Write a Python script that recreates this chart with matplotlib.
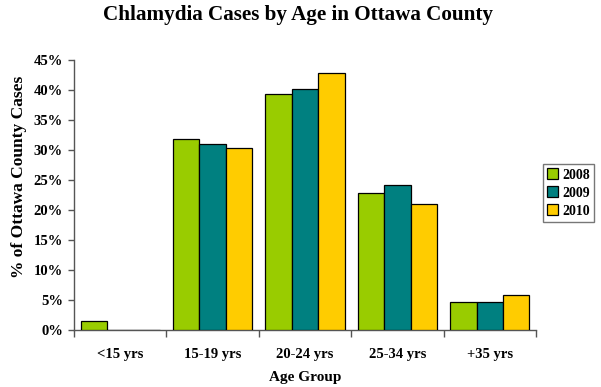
import matplotlib
matplotlib.use("Agg")
import matplotlib.pyplot as plt
import numpy as np
from matplotlib.ticker import FuncFormatter, FixedLocator

categories = ["<15 yrs", "15-19 yrs", "20-24 yrs", "25-34 yrs", "+35 yrs"]
years = ["2008", "2009", "2010"]
pct_2008 = [1.5, 31.8, 39.3, 22.9, 4.6]
pct_2009 = [0.0, 31.0, 40.2, 24.2, 4.6]
pct_2010 = [0.0, 30.4, 42.8, 21.0, 5.9]
colors = ["#99CC00", "#008080", "#FFCC00"]

plt.rcParams["font.family"] = ["Liberation Serif", "DejaVu Serif"]
plt.rcParams["font.weight"] = "bold"

fig = plt.figure(figsize=(6.01, 3.87), dpi=100)
ax = fig.add_axes([74 / 601, 57 / 387, 462 / 601, 270 / 387])

x = np.arange(len(categories))
w = 0.285
series = [pct_2008, pct_2009, pct_2010]
for i, (vals, col, yr) in enumerate(zip(series, colors, years)):
    ax.bar(x + (i - 1) * w, vals, width=w, color=col, edgecolor="black",
           linewidth=0.9, label=yr, zorder=3)

ax.set_xlim(-0.5, len(categories) - 0.5)
ax.set_ylim(0, 45)
ax.set_yticks(np.arange(0, 46, 5))
ax.yaxis.set_major_formatter(FuncFormatter(lambda v, p: f"{v:.0f}%"))
ax.set_xticks(x)
ax.set_xticklabels(categories, fontsize=10.5, fontweight="bold")
ax.tick_params(axis="x", length=0, pad=13)
ax.xaxis.set_minor_locator(FixedLocator(np.arange(-0.5, len(categories), 1)))
ax.tick_params(axis="x", which="minor", length=5, width=1, color="#555555", direction="out")
ax.tick_params(axis="y", length=4, width=1, color="#555555", direction="out",
               labelsize=10.5, pad=4)
for lab in ax.get_yticklabels():
    lab.set_fontweight("bold")

for s in ["top", "right"]:
    ax.spines[s].set_visible(False)
for s in ["left", "bottom"]:
    ax.spines[s].set_color("#555555")
    ax.spines[s].set_linewidth(1)

ax.set_xlabel("Age Group", fontsize=11, fontweight="bold")
ax.xaxis.set_label_coords(305 / 601, 10 / 387, transform=fig.transFigure)
ax.xaxis.label.set_va("center")
ax.set_ylabel("% of Ottawa County Cases", fontsize=12.5, fontweight="bold")
ax.yaxis.set_label_coords(19 / 601, 1 - 177 / 387, transform=fig.transFigure)
ax.yaxis.label.set_va("center")
fig.suptitle("Chlamydia Cases by Age in Ottawa County", fontsize=15.2,
             fontweight="bold", x=298 / 601, y=1 - 5 / 387, va="top")

leg = ax.legend(loc="center left", bbox_to_anchor=(543 / 601, 194 / 387),
                bbox_transform=fig.transFigure, frameon=True, fancybox=False,
                handlelength=0.8, handleheight=0.8, handletextpad=0.3,
                borderpad=0.3, labelspacing=0.35, borderaxespad=0,
                prop={"size": 10, "weight": "bold"})
leg.get_frame().set_edgecolor("#555555")
leg.get_frame().set_linewidth(1)

fig.savefig("out.png", dpi=100)
